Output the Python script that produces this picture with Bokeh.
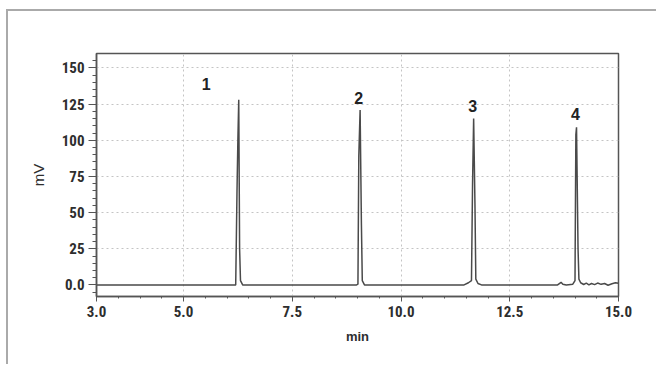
from bokeh.plotting import figure
from bokeh.models import FixedTicker, Range1d
from bokeh.core.properties import value
from bokeh.embed import file_html
from bokeh.resources import INLINE

# chromatogram trace (min, mV)
time = [3.00, 6.20, 6.23, 6.25, 6.27, 6.29, 6.31, 6.36,
        8.98, 9.01, 9.03, 9.06, 9.09, 9.11, 9.16,
        11.45, 11.55, 11.62, 11.645, 11.67, 11.70, 11.72, 11.77, 11.85,
        13.60, 13.68, 13.72, 13.80, 13.95, 14.00, 14.02, 14.035, 14.07, 14.09,
        14.13, 14.20, 14.26, 14.32, 14.38, 14.45, 14.52, 14.60, 14.68, 14.76,
        14.85, 14.93, 15.00]
signal = [0.0, 0.0, 65, 100, 128, 25, 3, 0.0,
          0.0, 0.5, 89, 121, 42, 3, 0.0,
          0.0, 1.5, 3, 70, 115, 56, 4, 1, 0.0,
          0.0, 1.8, 0.5, 0.0, 0.5, 3, 104, 109, 25, 4,
          1.5, 0.3, 1.2, 0.0, 1.0, 0.2, 1.3, 0.4, 1.0, -0.2,
          0.8, 1.5, 1.2]

# peak labels
peak_names = ["1", "2", "3", "4"]
peak_label_x = [5.52, 9.03, 11.65, 14.01]
peak_label_y = [139, 129.5, 123.7, 118]

x_ticks = [3.0, 5.0, 7.5, 10.0, 12.5, 15.0]
x_minor = [3.5, 4.0, 4.5, 5.5, 6.0, 6.5, 7.0, 8.0, 8.5, 9.0, 9.5, 10.5, 11.0,
           11.5, 12.0, 13.0, 13.5, 14.0, 14.5]
y_ticks = [0, 25, 50, 75, 100, 125, 150]
y_minor = [-5, 5, 10, 15, 20, 30, 35, 40, 45, 55, 60, 65, 70, 80, 85, 90, 95,
           105, 110, 115, 120, 130, 135, 140, 145, 155]

FONT = "'Roboto Condensed', 'DejaVu Sans Condensed', 'Liberation Sans Narrow', 'Liberation Sans', sans-serif"
TXT = "#2e2e2e"

p = figure(width=650, height=355, output_backend="svg", toolbar_location=None,
           x_range=Range1d(3.0, 15.0), y_range=Range1d(-8, 160),
           min_border_left=88, min_border_right=40, min_border_top=42,
           min_border_bottom=70)
p.styles = {"margin-left": "6px", "margin-top": "9px",
            "border-left": "2px solid #aaaaaa", "border-top": "2px solid #aaaaaa"}

p.line(time, signal, line_color="#4a4a4a", line_width=1.5)
p.text(x=peak_label_x, y=peak_label_y, text=peak_names,
       text_font=value("Liberation Sans"), text_font_style="bold",
       text_font_size="16px", text_color="#222222",
       text_align="center", text_baseline="middle")

p.outline_line_color = "#555555"
p.outline_line_width = 1.5

p.xaxis.ticker = FixedTicker(ticks=x_ticks, minor_ticks=x_minor)
p.yaxis.ticker = FixedTicker(ticks=y_ticks, minor_ticks=y_minor)
p.yaxis.major_label_overrides = {0: "0.0"}
p.xaxis.major_label_overrides = {3.0: "3.0", 5.0: "5.0", 7.5: "7.5", 10.0: "10.0",
                                 12.5: "12.5", 15.0: "15.0"}

for ax in (p.xaxis, p.yaxis):
    ax.axis_line_color = "#555555"
    ax.axis_line_width = 1.5
    ax.major_tick_line_color = "#555555"
    ax.minor_tick_line_color = "#555555"
    ax.major_tick_in = 0
    ax.minor_tick_in = 0
    ax.major_label_text_font = FONT
    ax.major_label_text_font_style = "bold"
    ax.major_label_text_font_size = "15px"
    ax.major_label_text_color = TXT

p.xaxis.major_tick_out = 5
p.xaxis.minor_tick_out = 2
p.xaxis.major_label_standoff = 4
p.yaxis.major_tick_out = 8
p.yaxis.minor_tick_out = 4
p.yaxis.major_label_standoff = 4

p.xaxis.axis_label = "min"
p.xaxis.axis_label_text_font = "Liberation Sans"
p.xaxis.axis_label_text_font_style = "bold"
p.xaxis.axis_label_text_font_size = "13px"
p.xaxis.axis_label_text_color = TXT
p.xaxis.axis_label_standoff = 9

p.yaxis.axis_label = "mV"
p.yaxis.axis_label_text_font = "Liberation Sans"
p.yaxis.axis_label_text_font_style = "normal"
p.yaxis.axis_label_text_font_size = "15px"
p.yaxis.axis_label_text_color = TXT
p.yaxis.axis_label_standoff = 12

p.xgrid.ticker = FixedTicker(ticks=[5.0, 7.5, 10.0, 12.5])
p.ygrid.ticker = FixedTicker(ticks=[25, 50, 75, 100, 125, 150])
p.grid.grid_line_color = "#c4c4c4"
p.grid.grid_line_dash = "2 3"
p.grid.grid_line_width = 1

open("out.html", "w").write(file_html(p, INLINE))
